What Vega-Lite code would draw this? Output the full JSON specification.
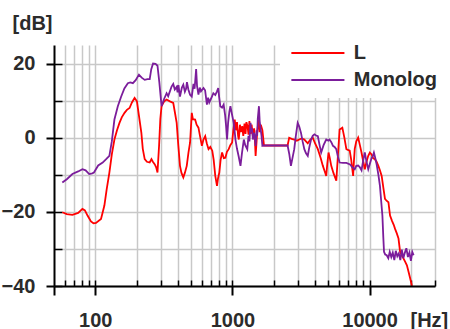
{
  "$schema": "https://vega.github.io/schema/vega-lite/v6.json",
  "width": 381,
  "height": 241,
  "autosize": {"type": "none"},
  "padding": {"left": 54, "top": 45, "right": 15, "bottom": 43},
  "background": "white",
  "config": {"view": {"stroke": null}},
  "datasets": {
    "curves": [
      {"s":"L","f":57.5,"dB":-20.1},{"s":"L","f":62,"dB":-20.6},{"s":"L","f":68.1,"dB":-20.8},{"s":"L","f":75,"dB":-20.3},{"s":"L","f":80.6,"dB":-19.2},{"s":"L","f":84,"dB":-19.6},{"s":"L","f":87.8,"dB":-21},{"s":"L","f":93,"dB":-22.6},{"s":"L","f":97,"dB":-23.1},{"s":"L","f":101.2,"dB":-23},{"s":"L","f":110.1,"dB":-21.9},{"s":"L","f":116.5,"dB":-18.3},{"s":"L","f":121,"dB":-14},{"s":"L","f":126.7,"dB":-9.4},{"s":"L","f":132,"dB":-4.5},{"s":"L","f":137.9,"dB":-0.5},{"s":"L","f":144,"dB":2},{"s":"L","f":150.1,"dB":4},{"s":"L","f":156,"dB":5.5},{"s":"L","f":163.4,"dB":6.7},{"s":"L","f":170,"dB":7.5},{"s":"L","f":177.8,"dB":8},{"s":"L","f":185,"dB":9.5},{"s":"L","f":193.5,"dB":10.7},{"s":"L","f":201.2,"dB":9.8},{"s":"L","f":208,"dB":6},{"s":"L","f":216.8,"dB":1.3},{"s":"L","f":222,"dB":-3},{"s":"L","f":229.3,"dB":-5.8},{"s":"L","f":238,"dB":-6.5},{"s":"L","f":249.4,"dB":-6.7},{"s":"L","f":256.8,"dB":-5.8},{"s":"L","f":263,"dB":-6.5},{"s":"L","f":271.6,"dB":-7.2},{"s":"L","f":278,"dB":-8},{"s":"L","f":284.2,"dB":-9.4},{"s":"L","f":292,"dB":-2},{"s":"L","f":298,"dB":5},{"s":"L","f":304.2,"dB":8.5},{"s":"L","f":318,"dB":9.8},{"s":"L","f":331.1,"dB":10.3},{"s":"L","f":350,"dB":9.8},{"s":"L","f":370.2,"dB":9.4},{"s":"L","f":380,"dB":7},{"s":"L","f":392.2,"dB":4},{"s":"L","f":403,"dB":-2},{"s":"L","f":414.6,"dB":-7.6},{"s":"L","f":425,"dB":-9.5},{"s":"L","f":438.5,"dB":-10.7},{"s":"L","f":450,"dB":-9.5},{"s":"L","f":464.5,"dB":-7.6},{"s":"L","f":478,"dB":-4},{"s":"L","f":491.2,"dB":-1.3},{"s":"L","f":505.3,"dB":6.7},{"s":"L","f":515,"dB":5},{"s":"L","f":534.5,"dB":4.9},{"s":"L","f":548,"dB":3.5},{"s":"L","f":565.3,"dB":2.7},{"s":"L","f":580,"dB":0.5},{"s":"L","f":598.7,"dB":-2.2},{"s":"L","f":615,"dB":-0.5},{"s":"L","f":633.2,"dB":0.4},{"s":"L","f":650,"dB":-1.5},{"s":"L","f":669.6,"dB":-3.1},{"s":"L","f":690,"dB":-2.5},{"s":"L","f":712.7,"dB":-3.5},{"s":"L","f":730,"dB":-6},{"s":"L","f":749.9,"dB":-10.3},{"s":"L","f":771.7,"dB":-13},{"s":"L","f":785,"dB":-11},{"s":"L","f":802.4,"dB":-9.4},{"s":"L","f":820,"dB":-6},{"s":"L","f":840.5,"dB":-4},{"s":"L","f":865,"dB":-5.5},{"s":"L","f":888.4,"dB":-5.4},{"s":"L","f":912,"dB":-3.8},{"s":"L","f":939.4,"dB":-3.1},{"s":"L","f":965,"dB":-2},{"s":"L","f":995,"dB":-1.3},{"s":"L","f":1015,"dB":2},{"s":"L","f":1040,"dB":4.9},{"s":"L","f":1060,"dB":2},{"s":"L","f":1080,"dB":4.2},{"s":"L","f":1100,"dB":0.5},{"s":"L","f":1113,"dB":-0.5},{"s":"L","f":1135,"dB":3.5},{"s":"L","f":1150,"dB":1.5},{"s":"L","f":1179,"dB":3.1},{"s":"L","f":1200,"dB":0.5},{"s":"L","f":1225,"dB":3.8},{"s":"L","f":1246,"dB":1},{"s":"L","f":1265,"dB":4.2},{"s":"L","f":1290,"dB":3},{"s":"L","f":1310,"dB":0.8},{"s":"L","f":1330,"dB":4.5},{"s":"L","f":1356,"dB":1},{"s":"L","f":1380,"dB":3.5},{"s":"L","f":1410,"dB":0.5},{"s":"L","f":1440,"dB":2.5},{"s":"L","f":1460,"dB":-1},{"s":"L","f":1476,"dB":-4.9},{"s":"L","f":1500,"dB":-1},{"s":"L","f":1520,"dB":2},{"s":"L","f":1553,"dB":4.9},{"s":"L","f":1580,"dB":1.5},{"s":"L","f":1610,"dB":3.5},{"s":"L","f":1654,"dB":2},{"s":"L","f":1699,"dB":-2.1},{"s":"L","f":2525,"dB":-2.1},{"s":"L","f":2594,"dB":0},{"s":"L","f":2700,"dB":-0.3},{"s":"L","f":2823,"dB":-0.5},{"s":"L","f":2950,"dB":-0.8},{"s":"L","f":3072,"dB":-0.5},{"s":"L","f":3200,"dB":-0.2},{"s":"L","f":3344,"dB":-0.5},{"s":"L","f":3543,"dB":-1.5},{"s":"L","f":3700,"dB":-0.5},{"s":"L","f":3855,"dB":0},{"s":"L","f":4000,"dB":-1.5},{"s":"L","f":4196,"dB":-3.1},{"s":"L","f":4400,"dB":-5.5},{"s":"L","f":4566,"dB":-7.6},{"s":"L","f":4700,"dB":-9},{"s":"L","f":4830,"dB":-10.3},{"s":"L","f":4920,"dB":-7},{"s":"L","f":5021,"dB":-4},{"s":"L","f":5130,"dB":-5.5},{"s":"L","f":5256,"dB":-7.6},{"s":"L","f":5450,"dB":-9.5},{"s":"L","f":5721,"dB":-11.6},{"s":"L","f":5850,"dB":-6},{"s":"L","f":6047,"dB":2.2},{"s":"L","f":6331,"dB":2.7},{"s":"L","f":6550,"dB":0},{"s":"L","f":6774,"dB":-3.1},{"s":"L","f":6950,"dB":-3.3},{"s":"L","f":7164,"dB":-3.5},{"s":"L","f":7350,"dB":-6},{"s":"L","f":7589,"dB":-10.3},{"s":"L","f":7700,"dB":-6},{"s":"L","f":7797,"dB":-3},{"s":"L","f":8000,"dB":-1},{"s":"L","f":8259,"dB":0},{"s":"L","f":8500,"dB":-2},{"s":"L","f":8733,"dB":-4},{"s":"L","f":9000,"dB":-6.5},{"s":"L","f":9235,"dB":-8.5},{"s":"L","f":9500,"dB":-6.5},{"s":"L","f":9781,"dB":-4.9},{"s":"L","f":10050,"dB":-4},{"s":"L","f":10344,"dB":-4.5},{"s":"L","f":10600,"dB":-5.5},{"s":"L","f":10940,"dB":-5.8},{"s":"L","f":11250,"dB":-6.5},{"s":"L","f":11590,"dB":-7.6},{"s":"L","f":11900,"dB":-8.8},{"s":"L","f":12254,"dB":-10.3},{"s":"L","f":12600,"dB":-13.5},{"s":"L","f":12955,"dB":-16.5},{"s":"L","f":13300,"dB":-17},{"s":"L","f":13725,"dB":-17.4},{"s":"L","f":14106,"dB":-21},{"s":"L","f":14600,"dB":-22.5},{"s":"L","f":15000,"dB":-23.5},{"s":"L","f":15346,"dB":-24.6},{"s":"L","f":15800,"dB":-25.8},{"s":"L","f":16255,"dB":-27.2},{"s":"L","f":16703,"dB":-30.8},{"s":"L","f":17200,"dB":-31.8},{"s":"L","f":17696,"dB":-32.6},{"s":"L","f":18200,"dB":-33.5},{"s":"L","f":18716,"dB":-34.4},{"s":"L","f":19200,"dB":-36},{"s":"L","f":19788,"dB":-38},{"s":"L","f":20360,"dB":-40},
      {"s":"Monolog","f":57.5,"dB":-12.1},{"s":"Monolog","f":62,"dB":-11.2},{"s":"Monolog","f":68.1,"dB":-9.8},{"s":"Monolog","f":75,"dB":-9.1},{"s":"Monolog","f":80.6,"dB":-8.5},{"s":"Monolog","f":85,"dB":-8.8},{"s":"Monolog","f":90.3,"dB":-9.8},{"s":"Monolog","f":95,"dB":-9.6},{"s":"Monolog","f":97.8,"dB":-9.4},{"s":"Monolog","f":105,"dB":-7.5},{"s":"Monolog","f":113.2,"dB":-6.7},{"s":"Monolog","f":120,"dB":-5.8},{"s":"Monolog","f":126.7,"dB":-4.9},{"s":"Monolog","f":132,"dB":-1},{"s":"Monolog","f":137.9,"dB":4.9},{"s":"Monolog","f":146,"dB":8.5},{"s":"Monolog","f":154.5,"dB":11.1},{"s":"Monolog","f":163,"dB":13.3},{"s":"Monolog","f":172.8,"dB":14.7},{"s":"Monolog","f":180,"dB":14.9},{"s":"Monolog","f":188,"dB":14.7},{"s":"Monolog","f":197,"dB":15.5},{"s":"Monolog","f":208.2,"dB":17},{"s":"Monolog","f":218,"dB":16.2},{"s":"Monolog","f":229.3,"dB":15.6},{"s":"Monolog","f":240,"dB":15.8},{"s":"Monolog","f":249.4,"dB":15.8},{"s":"Monolog","f":256,"dB":18.5},{"s":"Monolog","f":263.8,"dB":20},{"s":"Monolog","f":275,"dB":19.9},{"s":"Monolog","f":284.2,"dB":19.4},{"s":"Monolog","f":293,"dB":15},{"s":"Monolog","f":304.2,"dB":8.5},{"s":"Monolog","f":318,"dB":10.5},{"s":"Monolog","f":331.1,"dB":12},{"s":"Monolog","f":340,"dB":11.2},{"s":"Monolog","f":350,"dB":12.5},{"s":"Monolog","f":360,"dB":13.8},{"s":"Monolog","f":370.2,"dB":14.5},{"s":"Monolog","f":380,"dB":13},{"s":"Monolog","f":392.2,"dB":13.7},{"s":"Monolog","f":398,"dB":12.2},{"s":"Monolog","f":404,"dB":14.2},{"s":"Monolog","f":414.6,"dB":11.1},{"s":"Monolog","f":428,"dB":13.5},{"s":"Monolog","f":438.5,"dB":14.3},{"s":"Monolog","f":450,"dB":12.4},{"s":"Monolog","f":459,"dB":13.2},{"s":"Monolog","f":466,"dB":15},{"s":"Monolog","f":477.2,"dB":13},{"s":"Monolog","f":491,"dB":11.6},{"s":"Monolog","f":505.3,"dB":11.1},{"s":"Monolog","f":520,"dB":14.5},{"s":"Monolog","f":530,"dB":13.2},{"s":"Monolog","f":543.7,"dB":18.5},{"s":"Monolog","f":552,"dB":14},{"s":"Monolog","f":565.3,"dB":11.6},{"s":"Monolog","f":578,"dB":13.5},{"s":"Monolog","f":590,"dB":12.5},{"s":"Monolog","f":615.2,"dB":13.4},{"s":"Monolog","f":632,"dB":12.8},{"s":"Monolog","f":651.6,"dB":8.9},{"s":"Monolog","f":665,"dB":10.8},{"s":"Monolog","f":678,"dB":9.5},{"s":"Monolog","f":709,"dB":11.1},{"s":"Monolog","f":726,"dB":12},{"s":"Monolog","f":750,"dB":11.5},{"s":"Monolog","f":771.7,"dB":12.5},{"s":"Monolog","f":788,"dB":13.4},{"s":"Monolog","f":800,"dB":11},{"s":"Monolog","f":816,"dB":8.5},{"s":"Monolog","f":840,"dB":8.1},{"s":"Monolog","f":863,"dB":8.9},{"s":"Monolog","f":885,"dB":6},{"s":"Monolog","f":900,"dB":3},{"s":"Monolog","f":914,"dB":-0.5},{"s":"Monolog","f":930,"dB":4},{"s":"Monolog","f":950,"dB":7},{"s":"Monolog","f":966.7,"dB":8.5},{"s":"Monolog","f":990,"dB":6.5},{"s":"Monolog","f":1022,"dB":4},{"s":"Monolog","f":1040,"dB":1.5},{"s":"Monolog","f":1052,"dB":-0.5},{"s":"Monolog","f":1080,"dB":-3},{"s":"Monolog","f":1110,"dB":-5},{"s":"Monolog","f":1145,"dB":-7.6},{"s":"Monolog","f":1175,"dB":-4},{"s":"Monolog","f":1211,"dB":-0.5},{"s":"Monolog","f":1240,"dB":-2},{"s":"Monolog","f":1283,"dB":-3.1},{"s":"Monolog","f":1310,"dB":0.5},{"s":"Monolog","f":1330,"dB":-1},{"s":"Monolog","f":1356,"dB":4},{"s":"Monolog","f":1370,"dB":1.5},{"s":"Monolog","f":1390,"dB":2.5},{"s":"Monolog","f":1410,"dB":-0.5},{"s":"Monolog","f":1434,"dB":1.3},{"s":"Monolog","f":1455,"dB":0.5},{"s":"Monolog","f":1476,"dB":-2.2},{"s":"Monolog","f":1500,"dB":2},{"s":"Monolog","f":1515,"dB":0.5},{"s":"Monolog","f":1530,"dB":5},{"s":"Monolog","f":1561,"dB":8.5},{"s":"Monolog","f":1580,"dB":4.5},{"s":"Monolog","f":1607,"dB":2.2},{"s":"Monolog","f":1630,"dB":0.5},{"s":"Monolog","f":1654,"dB":-2.2},{"s":"Monolog","f":1699,"dB":-2.1},{"s":"Monolog","f":2525,"dB":-2.1},{"s":"Monolog","f":2600,"dB":-4.5},{"s":"Monolog","f":2670,"dB":-7.6},{"s":"Monolog","f":2740,"dB":-5.5},{"s":"Monolog","f":2823,"dB":-3.1},{"s":"Monolog","f":2900,"dB":0.5},{"s":"Monolog","f":2991,"dB":4},{"s":"Monolog","f":3070,"dB":3},{"s":"Monolog","f":3162,"dB":1.3},{"s":"Monolog","f":3250,"dB":-1},{"s":"Monolog","f":3344,"dB":-3.1},{"s":"Monolog","f":3440,"dB":-4.2},{"s":"Monolog","f":3543,"dB":-4.9},{"s":"Monolog","f":3640,"dB":-2.5},{"s":"Monolog","f":3746,"dB":-0.5},{"s":"Monolog","f":3850,"dB":0.5},{"s":"Monolog","f":3962,"dB":0.9},{"s":"Monolog","f":4080,"dB":0.6},{"s":"Monolog","f":4196,"dB":0.4},{"s":"Monolog","f":4320,"dB":-2},{"s":"Monolog","f":4437,"dB":-4},{"s":"Monolog","f":4620,"dB":-2},{"s":"Monolog","f":4830,"dB":-0.5},{"s":"Monolog","f":5000,"dB":-0.8},{"s":"Monolog","f":5107,"dB":-0.5},{"s":"Monolog","f":5260,"dB":-1.2},{"s":"Monolog","f":5410,"dB":-2.2},{"s":"Monolog","f":5560,"dB":-2.5},{"s":"Monolog","f":5721,"dB":-3.1},{"s":"Monolog","f":5870,"dB":-5},{"s":"Monolog","f":6047,"dB":-6.7},{"s":"Monolog","f":6400,"dB":-6.8},{"s":"Monolog","f":6774,"dB":-6.8},{"s":"Monolog","f":7200,"dB":-7.2},{"s":"Monolog","f":7500,"dB":-8},{"s":"Monolog","f":7797,"dB":-8.5},{"s":"Monolog","f":8000,"dB":-7.6},{"s":"Monolog","f":8259,"dB":-7.5},{"s":"Monolog","f":8500,"dB":-8},{"s":"Monolog","f":8733,"dB":-8.8},{"s":"Monolog","f":9000,"dB":-6},{"s":"Monolog","f":9235,"dB":-4},{"s":"Monolog","f":9500,"dB":-6.5},{"s":"Monolog","f":9781,"dB":-8.5},{"s":"Monolog","f":10050,"dB":-7},{"s":"Monolog","f":10344,"dB":-5.5},{"s":"Monolog","f":10550,"dB":-5},{"s":"Monolog","f":10755,"dB":-4},{"s":"Monolog","f":11000,"dB":-5.5},{"s":"Monolog","f":11259,"dB":-7.2},{"s":"Monolog","f":11600,"dB":-10},{"s":"Monolog","f":11904,"dB":-13},{"s":"Monolog","f":12150,"dB":-17},{"s":"Monolog","f":12404,"dB":-21},{"s":"Monolog","f":12600,"dB":-27},{"s":"Monolog","f":12744,"dB":-30.8},{"s":"Monolog","f":13000,"dB":-31.5},{"s":"Monolog","f":13335,"dB":-31.7},{"s":"Monolog","f":13700,"dB":-32.5},{"s":"Monolog","f":14030,"dB":-30.8},{"s":"Monolog","f":14400,"dB":-32.2},{"s":"Monolog","f":14761,"dB":-31},{"s":"Monolog","f":15150,"dB":-33},{"s":"Monolog","f":15530,"dB":-30.5},{"s":"Monolog","f":15930,"dB":-32},{"s":"Monolog","f":16340,"dB":-31.2},{"s":"Monolog","f":16760,"dB":-33},{"s":"Monolog","f":17190,"dB":-30.2},{"s":"Monolog","f":17630,"dB":-32.5},{"s":"Monolog","f":18090,"dB":-31},{"s":"Monolog","f":18550,"dB":-29.8},{"s":"Monolog","f":19030,"dB":-32.2},{"s":"Monolog","f":19520,"dB":-31},{"s":"Monolog","f":20020,"dB":-33.2},{"s":"Monolog","f":20500,"dB":-30.8},{"s":"Monolog","f":20953,"dB":-31.7}
    ]
  },
  "data": {"name": "curves"},
  "layer": [
    {
      "transform": [{"filter": "datum.s == 'L'"}],
      "mark": {"type": "line", "strokeWidth": 1.8},
      "encoding": {
        "x": {
          "field": "f", "type": "quantitative",
          "scale": {"type": "log", "domain": [50, 30000], "nice": false},
          "axis": {
            "orient": "bottom", "values": [50, 100, 1000, 10000], "format": "d",
            "labelExpr": "datum.value == 50 ? '' : datum.label",
            "grid": false, "zindex": 1,
            "domainColor": "black", "domainWidth": 2,
            "tickColor": "black", "tickWidth": 2, "tickSize": 9,
            "labelFont": "Liberation Sans", "labelFontWeight": "bold", "labelFontSize": 20, "labelColor": "#2b2b2b",
            "labelBaseline": "alphabetic", "labelPadding": 31, "labelFlush": false, "labelOverlap": false,
            "title": "[Hz]", "titleX": 356, "titleY": 40, "titleAlign": "left", "titleBaseline": "alphabetic",
            "titleFont": "Liberation Sans", "titleFontWeight": "bold", "titleFontSize": 20, "titleColor": "#2b2b2b"
          }
        },
        "y": {
          "field": "dB", "type": "quantitative",
          "scale": {"domain": [-40, 25], "nice": false, "zero": false},
          "axis": {
            "orient": "left", "values": [-40, -20, 0, 20],
            "grid": false, "zindex": 1,
            "domainColor": "black", "domainWidth": 2,
            "tickColor": "black", "tickWidth": 2, "tickSize": 8,
            "labelFont": "Liberation Sans", "labelFontWeight": "bold", "labelFontSize": 20, "labelColor": "#2b2b2b",
            "labelPadding": 11, "labelBaseline": "middle",
            "title": "[dB]", "titleAngle": 0, "titleX": -42, "titleY": -16, "titleAlign": "left", "titleBaseline": "alphabetic",
            "titleFont": "Liberation Sans", "titleFontWeight": "bold", "titleFontSize": 20, "titleColor": "#2b2b2b"
          }
        },
        "color": {
          "field": "s", "type": "nominal",
          "scale": {"domain": ["L", "Monolog"], "range": ["#ff0000", "#7b1d9b"]},
          "legend": {
            "title": null, "orient": "none", "legendX": 226, "legendY": -10,
            "fillColor": "white", "padding": 8,
            "symbolType": "M-1,0H7", "symbolSize": 176, "symbolStrokeWidth": 2, "symbolFillColor": "transparent",
            "labelFont": "Liberation Sans", "labelFontWeight": "bold", "labelFontSize": 20, "labelColor": "#2b2b2b",
            "labelOffset": 45.75, "rowPadding": 7
          }
        }
      }
    },
    {
      "transform": [{"filter": "datum.s == 'Monolog'"}],
      "mark": {"type": "line", "strokeWidth": 1.8},
      "encoding": {
        "x": {
          "field": "f", "type": "quantitative",
          "scale": {"type": "log", "domain": [50, 30000], "nice": false},
          "axis": {
            "orient": "bottom",
            "values": [60, 70, 80, 90, 100, 200, 300, 400, 500, 600, 700, 800, 900, 1000, 2000, 3000, 4000, 5000, 6000, 7000, 8000, 9000, 10000, 20000, 30000],
            "grid": true, "gridColor": "#c8c8c8", "gridWidth": 1.5, "zindex": 0,
            "domain": false, "labels": false, "title": null,
            "tickColor": "black", "tickWidth": 1.5, "tickSize": -6
          }
        },
        "y": {
          "field": "dB", "type": "quantitative",
          "scale": {"domain": [-40, 25], "nice": false, "zero": false},
          "axis": {
            "orient": "left", "values": [-40, -30, -20, -10, 0, 10, 20],
            "grid": true, "gridColor": "#c8c8c8", "gridWidth": 1.5, "zindex": 0,
            "domain": false, "labels": false, "title": null,
            "tickColor": "black", "tickWidth": 1.5, "tickSize": -8
          }
        },
        "color": {
          "field": "s", "type": "nominal",
          "scale": {"domain": ["L", "Monolog"], "range": ["#ff0000", "#7b1d9b"]},
          "legend": {
            "title": null, "orient": "none", "legendX": 226, "legendY": -10,
            "fillColor": "white", "padding": 8,
            "symbolType": "M-1,0H7", "symbolSize": 176, "symbolStrokeWidth": 2, "symbolFillColor": "transparent",
            "labelFont": "Liberation Sans", "labelFontWeight": "bold", "labelFontSize": 20, "labelColor": "#2b2b2b",
            "labelOffset": 45.75, "rowPadding": 7
          }
        }
      }
    }
  ],
  "resolve": {"axis": {"x": "independent", "y": "independent"}}
}
